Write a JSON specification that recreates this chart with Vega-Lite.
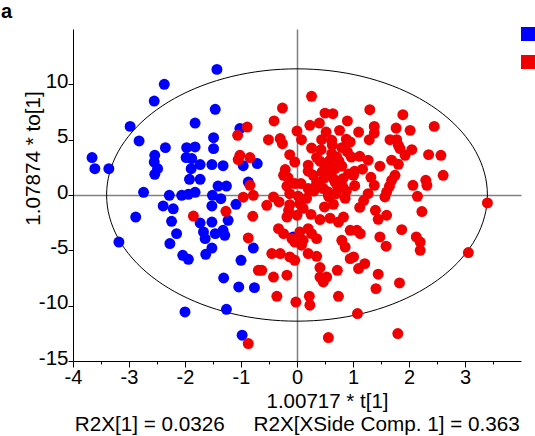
{
  "$schema": "https://vega.github.io/schema/vega-lite/v6.json",
  "autosize": {"type": "none"},
  "width": 448,
  "height": 332,
  "padding": {"left": 73, "top": 29, "right": 14, "bottom": 75},
  "background": "white",
  "config": {"view": {"stroke": null}, "font": "Liberation Sans"},
  "title": {"text": "a", "anchor": "start", "frame": "group", "dx": -72, "offset": 5.5, "fontSize": 20, "fontWeight": "bold", "font": "Liberation Sans", "color": "black"},
  "resolve": {"axis": {"x": "independent"}},
  "layer": [
    {
      "data": {"values": [
        {"i":0,"x":3.4,"y":0},{"i":1,"x":3.348,"y":1.979},{"i":2,"x":3.195,"y":3.899},{"i":3,"x":2.944,"y":5.7},{"i":4,"x":2.604,"y":7.328},{"i":5,"x":2.186,"y":8.732},{"i":6,"x":1.7,"y":9.872},{"i":7,"x":1.163,"y":10.713},{"i":8,"x":0.59,"y":11.227},
        {"i":9,"x":0,"y":11.4},{"i":10,"x":-0.59,"y":11.227},{"i":11,"x":-1.163,"y":10.713},{"i":12,"x":-1.7,"y":9.872},{"i":13,"x":-2.186,"y":8.732},{"i":14,"x":-2.604,"y":7.328},{"i":15,"x":-2.944,"y":5.7},{"i":16,"x":-3.195,"y":3.899},{"i":17,"x":-3.348,"y":1.979},
        {"i":18,"x":-3.4,"y":0},{"i":19,"x":-3.348,"y":-1.979},{"i":20,"x":-3.195,"y":-3.899},{"i":21,"x":-2.944,"y":-5.7},{"i":22,"x":-2.604,"y":-7.328},{"i":23,"x":-2.186,"y":-8.732},{"i":24,"x":-1.7,"y":-9.872},{"i":25,"x":-1.163,"y":-10.713},{"i":26,"x":-0.59,"y":-11.227},
        {"i":27,"x":0,"y":-11.4},{"i":28,"x":0.59,"y":-11.227},{"i":29,"x":1.163,"y":-10.713},{"i":30,"x":1.7,"y":-9.872},{"i":31,"x":2.186,"y":-8.732},{"i":32,"x":2.604,"y":-7.328},{"i":33,"x":2.944,"y":-5.7},{"i":34,"x":3.195,"y":-3.899},{"i":35,"x":3.348,"y":-1.979}
      ]},
      "mark": {"type": "line", "interpolate": "cardinal-closed", "color": "black", "strokeWidth": 1},
      "encoding": {
        "x": {"field": "x", "type": "quantitative", "scale": {"domain": [-4, 4], "nice": false, "zero": false},
          "axis": {"orient": "bottom", "domain": false, "ticks": false, "labels": false, "grid": false,
            "title": "R2X[1] = 0.0326 \u00a0\u00a0\u00a0\u00a0R2X[XSide Comp. 1] = 0.363",
            "titleFont": "Liberation Sans", "titleFontSize": 20.7, "titleFontWeight": "normal", "titleColor": "black",
            "titleAlign": "left", "titleBaseline": "alphabetic", "titleX": 1.2, "titleY": 69.5}},
        "y": {"field": "y", "type": "quantitative"},
        "order": {"field": "i"}
      }
    },
    {
      "mark": {"type": "point", "shape": "triangle-right", "filled": true, "color": "black", "opacity": 1, "size": 70},
      "encoding": {
        "x": {"datum": 3.91, "type": "quantitative", "axis": null},
        "y": {"datum": -15, "type": "quantitative"}
      }
    },
    {
      "mark": {"type": "point", "shape": "triangle-up", "filled": true, "color": "black", "opacity": 1, "size": 70},
      "encoding": {
        "x": {"datum": -4, "type": "quantitative", "axis": null},
        "y": {"datum": 14.64, "type": "quantitative"}
      }
    },
    {
      "data": {"values": [
        {"g":"A","x":-1.43,"y":11.35},{"g":"A","x":-2.37,"y":10.0},{"g":"A","x":-2.55,"y":8.49},{"g":"A","x":-1.46,"y":7.74},{"g":"A","x":-2.98,"y":6.2},{"g":"A","x":-1.82,"y":6.5},{"g":"A","x":-2.82,"y":4.88},{"g":"A","x":-1.02,"y":6.0},{"g":"A","x":-1.49,"y":5.18},{"g":"A","x":-2.35,"y":4.28},
        {"g":"A","x":-1.49,"y":4.19},{"g":"A","x":-1.97,"y":4.28},{"g":"A","x":-1.82,"y":4.34},{"g":"A","x":-3.66,"y":3.38},{"g":"A","x":-3.61,"y":2.38},{"g":"A","x":-3.36,"y":2.38},{"g":"A","x":-2.54,"y":3.59},{"g":"A","x":-2.55,"y":2.98},{"g":"A","x":-2.49,"y":2.38},{"g":"A","x":-2.54,"y":1.87},
        {"g":"A","x":-1.98,"y":3.38},{"g":"A","x":-1.88,"y":3.29},{"g":"A","x":-1.73,"y":2.75},{"g":"A","x":-1.89,"y":2.38},{"g":"A","x":-1.92,"y":1.42},{"g":"A","x":-1.73,"y":1.42},{"g":"A","x":-1.52,"y":2.75},{"g":"A","x":-1.32,"y":2.65},{"g":"A","x":-0.96,"y":2.65},{"g":"A","x":-0.71,"y":2.84},
        {"g":"A","x":-0.87,"y":1.17},{"g":"A","x":-1.41,"y":0.81},{"g":"A","x":-1.26,"y":0.81},{"g":"A","x":-2.74,"y":0.24},{"g":"A","x":-2.28,"y":-0.03},{"g":"A","x":-2.06,"y":-0.03},{"g":"A","x":-1.94,"y":0.06},{"g":"A","x":-1.82,"y":0.24},{"g":"A","x":-1.51,"y":-0.03},{"g":"A","x":-1.36,"y":-0.33},
        {"g":"A","x":-2.39,"y":-0.99},{"g":"A","x":-2.21,"y":-1.25},{"g":"A","x":-1.52,"y":-0.99},{"g":"A","x":-1.09,"y":-0.84},{"g":"A","x":-2.88,"y":-1.99},{"g":"A","x":-2.24,"y":-2.38},{"g":"A","x":-1.73,"y":-2.53},{"g":"A","x":-1.52,"y":-2.44},{"g":"A","x":-1.23,"y":-2.29},{"g":"A","x":-1.32,"y":-3.19},
        {"g":"A","x":-1.67,"y":-3.34},{"g":"A","x":-2.15,"y":-3.49},{"g":"A","x":-1.64,"y":-3.94},{"g":"A","x":-1.46,"y":-3.49},{"g":"A","x":-1.29,"y":-3.64},{"g":"A","x":-3.18,"y":-4.25},{"g":"A","x":-2.27,"y":-4.39},{"g":"A","x":-0.78,"y":-4.79},{"g":"A","x":-1.52,"y":-4.79},{"g":"A","x":-1.63,"y":-5.36},
        {"g":"A","x":-2.04,"y":-5.45},{"g":"A","x":-1.94,"y":-5.81},{"g":"A","x":-1.0,"y":-5.9},{"g":"A","x":-1.31,"y":-7.5},{"g":"A","x":-1.04,"y":-8.31},{"g":"A","x":-0.76,"y":-8.37},{"g":"A","x":-2.0,"y":-10.57},{"g":"A","x":-1.26,"y":-10.33},{"g":"A","x":-0.98,"y":-12.67},{"g":"A","x":-0.07,"y":-3.79},
        {"g":"B","x":0.26,"y":8.92},{"g":"B","x":-0.26,"y":7.86},{"g":"B","x":-0.41,"y":6.69},{"g":"B","x":-0.89,"y":6.14},{"g":"B","x":-1.06,"y":5.39},{"g":"B","x":0.5,"y":7.4},{"g":"B","x":0.64,"y":7.35},{"g":"B","x":0.9,"y":6.69},{"g":"B","x":1.3,"y":7.71},{"g":"B","x":0.0,"y":5.78},
        {"g":"B","x":0.23,"y":6.3},{"g":"B","x":0.4,"y":6.5},{"g":"B","x":0.08,"y":5.0},{"g":"B","x":-0.51,"y":5.0},{"g":"B","x":-0.3,"y":5.1},{"g":"B","x":-0.26,"y":4.64},{"g":"B","x":0.52,"y":5.69},{"g":"B","x":0.76,"y":5.84},{"g":"B","x":1.1,"y":5.69},{"g":"B","x":0.44,"y":5.0},
        {"g":"B","x":0.62,"y":4.94},{"g":"B","x":0.88,"y":5.05},{"g":"B","x":1.29,"y":5.0},{"g":"B","x":0.26,"y":4.24},{"g":"B","x":0.43,"y":4.1},{"g":"B","x":0.63,"y":4.5},{"g":"B","x":0.8,"y":4.28},{"g":"B","x":0.9,"y":3.9},{"g":"B","x":-0.13,"y":3.65},{"g":"B","x":-0.04,"y":2.98},
        {"g":"B","x":-1.02,"y":3.59},{"g":"B","x":-1.05,"y":3.2},{"g":"B","x":-0.84,"y":3.38},{"g":"B","x":0.41,"y":3.05},{"g":"B","x":0.58,"y":3.1},{"g":"B","x":0.71,"y":3.43},{"g":"B","x":1.12,"y":3.5},{"g":"B","x":1.27,"y":3.15},{"g":"B","x":-0.21,"y":2.3},{"g":"B","x":-0.24,"y":1.78},
        {"g":"B","x":-0.16,"y":1.57},{"g":"B","x":0.2,"y":2.15},{"g":"B","x":0.29,"y":1.78},{"g":"B","x":0.5,"y":2.53},{"g":"B","x":0.68,"y":2.38},{"g":"B","x":0.8,"y":2.6},{"g":"B","x":1.03,"y":2.15},{"g":"B","x":1.17,"y":2.33},{"g":"B","x":0.49,"y":1.55},{"g":"B","x":0.65,"y":1.48},
        {"g":"B","x":0.82,"y":1.48},{"g":"B","x":-0.18,"y":0.8},{"g":"B","x":-0.04,"y":1.03},{"g":"B","x":0.07,"y":1.03},{"g":"B","x":0.2,"y":0.58},{"g":"B","x":0.31,"y":0.65},{"g":"B","x":0.47,"y":0.58},{"g":"B","x":0.72,"y":0.8},{"g":"B","x":1.03,"y":0.84},{"g":"B","x":-0.84,"y":0.88},
        {"g":"B","x":-0.78,"y":-0.03},{"g":"B","x":-0.96,"y":-0.2},{"g":"B","x":-0.42,"y":-0.18},{"g":"B","x":-0.32,"y":-0.63},{"g":"B","x":-0.54,"y":-0.93},{"g":"B","x":-0.13,"y":-0.88},{"g":"B","x":0.02,"y":-0.1},{"g":"B","x":0.17,"y":-0.3},{"g":"B","x":0.57,"y":-0.18},{"g":"B","x":0.65,"y":-0.84},
        {"g":"B","x":0.86,"y":-0.3},{"g":"B","x":1.12,"y":-1.12},{"g":"B","x":1.19,"y":-0.5},{"g":"B","x":0.05,"y":-0.78},{"g":"B","x":-0.13,"y":0.12},{"g":"B","x":0.3,"y":0.35},{"g":"B","x":0.42,"y":0.8},{"g":"B","x":0.56,"y":-0.03},{"g":"B","x":0.7,"y":0.12},{"g":"B","x":0.82,"y":0.72},
        {"g":"B","x":1.27,"y":0.12},{"g":"B","x":0.11,"y":-1.2},{"g":"B","x":0.25,"y":-1.75},{"g":"B","x":-0.18,"y":-1.99},{"g":"B","x":0.0,"y":-1.83},{"g":"B","x":0.49,"y":-1.08},{"g":"B","x":0.41,"y":-2.22},{"g":"B","x":0.59,"y":-2.1},{"g":"B","x":0.74,"y":-2.44},{"g":"B","x":0.83,"y":-1.99},
        {"g":"B","x":-0.33,"y":-3.04},{"g":"B","x":-0.24,"y":-3.49},{"g":"B","x":-0.09,"y":-3.94},{"g":"B","x":0.05,"y":-3.34},{"g":"B","x":0.2,"y":-3.04},{"g":"B","x":0.26,"y":-3.49},{"g":"B","x":0.35,"y":-3.94},{"g":"B","x":0.11,"y":-4.09},{"g":"B","x":-0.04,"y":-4.25},{"g":"B","x":0.08,"y":-4.54},
        {"g":"B","x":0.8,"y":-4.09},{"g":"B","x":0.86,"y":-4.7},{"g":"B","x":0.95,"y":-3.19},{"g":"B","x":1.07,"y":-3.19},{"g":"B","x":1.01,"y":-5.6},{"g":"B","x":0.95,"y":-5.75},{"g":"B","x":1.13,"y":-3.49},{"g":"B","x":-0.45,"y":-5.29},{"g":"B","x":-0.3,"y":-5.29},{"g":"B","x":-0.13,"y":-5.6},
        {"g":"B","x":-0.04,"y":-5.9},{"g":"B","x":0.2,"y":-5.29},{"g":"B","x":0.35,"y":-5.54},{"g":"B","x":-0.63,"y":-6.8},{"g":"B","x":-0.42,"y":-7.41},{"g":"B","x":-0.18,"y":-7.25},{"g":"B","x":0.41,"y":-6.56},{"g":"B","x":0.41,"y":-7.41},{"g":"B","x":0.53,"y":-7.41},{"g":"B","x":0.47,"y":-7.86},
        {"g":"B","x":0.72,"y":-6.8},{"g":"B","x":1.1,"y":-6.65},{"g":"B","x":1.21,"y":-6.2},{"g":"B","x":-0.36,"y":-9.15},{"g":"B","x":-0.02,"y":-9.67},{"g":"B","x":0.22,"y":-9.15},{"g":"B","x":0.23,"y":-9.96},{"g":"B","x":0.74,"y":-9.15},{"g":"B","x":1.08,"y":-10.71},{"g":"B","x":0.56,"y":-12.88},
        {"g":"B","x":-0.87,"y":-13.42},{"g":"B","x":-1.85,"y":-1.9},{"g":"B","x":-1.27,"y":-1.47},{"g":"B","x":-0.87,"y":-3.88},{"g":"B","x":-0.79,"y":-1.92},{"g":"B","x":-0.69,"y":-6.8},{"g":"B","x":1.89,"y":7.26},{"g":"B","x":1.38,"y":6.2},{"g":"B","x":1.38,"y":5.6},{"g":"B","x":1.77,"y":6.05},
        {"g":"B","x":2.02,"y":5.84},{"g":"B","x":2.45,"y":6.2},{"g":"B","x":1.66,"y":5.0},{"g":"B","x":1.78,"y":5.0},{"g":"B","x":1.81,"y":4.49},{"g":"B","x":1.84,"y":4.19},{"g":"B","x":2.05,"y":4.1},{"g":"B","x":1.93,"y":3.59},{"g":"B","x":2.35,"y":3.65},{"g":"B","x":2.57,"y":3.59},
        {"g":"B","x":0.95,"y":4.79},{"g":"B","x":0.97,"y":3.43},{"g":"B","x":1.48,"y":2.6},{"g":"B","x":1.69,"y":3.15},{"g":"B","x":1.81,"y":2.77},{"g":"B","x":1.75,"y":1.78},{"g":"B","x":1.01,"y":1.78},{"g":"B","x":1.32,"y":1.6},{"g":"B","x":2.61,"y":1.78},{"g":"B","x":2.3,"y":1.33},
        {"g":"B","x":2.32,"y":0.88},{"g":"B","x":2.07,"y":0.88},{"g":"B","x":1.69,"y":1.33},{"g":"B","x":1.65,"y":0.79},{"g":"B","x":1.6,"y":0.27},{"g":"B","x":1.57,"y":-0.18},{"g":"B","x":1.38,"y":0.88},{"g":"B","x":2.15,"y":-0.12},{"g":"B","x":3.4,"y":-0.72},{"g":"B","x":2.23,"y":-1.5},
        {"g":"B","x":1.6,"y":-1.83},{"g":"B","x":1.45,"y":-2.2},{"g":"B","x":1.87,"y":-3.13},{"g":"B","x":1.48,"y":-3.79},{"g":"B","x":1.59,"y":-4.63},{"g":"B","x":2.13,"y":-3.79},{"g":"B","x":2.2,"y":-4.25},{"g":"B","x":2.2,"y":-5.0},{"g":"B","x":3.06,"y":-5.2},{"g":"B","x":1.45,"y":-7.16},
        {"g":"B","x":1.41,"y":-8.46},{"g":"B","x":1.83,"y":-7.95},{"g":"B","x":1.8,"y":-12.52},{"g":"B","x":0.62,"y":3.74},{"g":"B","x":0.45,"y":2.08},{"g":"B","x":0.68,"y":1.17},{"g":"B","x":1.4,"y":-1.38},{"g":"B","x":-0.15,"y":-1.4},{"g":"B","x":0.35,"y":3.4},{"g":"B","x":0.75,"y":3.05},
        {"g":"B","x":0.2,"y":2.7},{"g":"B","x":0.6,"y":2.25},{"g":"B","x":0.35,"y":1.2},{"g":"B","x":0.92,"y":1.9},{"g":"B","x":0.55,"y":0.3},{"g":"B","x":0.88,"y":0.35}
      ]},
      "mark": {"type": "circle", "size": 120, "opacity": 1},
      "encoding": {
        "x": {"field": "x", "type": "quantitative", "scale": {"domain": [-4, 4], "nice": false, "zero": false},
          "axis": {"orient": "bottom", "title": "1.00717 * t[1]",
            "values": [-4,-3.5,-3,-2.5,-2,-1.5,-1,-0.5,0,0.5,1,1.5,2,2.5,3,3.5],
            "labelExpr": "datum.value % 1 === 0 ? '' + datum.value : ''",
            "labelFont": "Liberation Sans", "labelFontSize": 20, "labelColor": "black", "labelPadding": 0.5, "labelOverlap": false, "labelBound": false, "labelFlush": false,
            "tickColor": "black", "tickWidth": 1, "tickSize": {"condition": {"test": "datum.value % 1 === 0", "value": 6}, "value": 3},
            "domainColor": "black", "domainWidth": 1,
            "grid": true, "gridColor": "#808080", "gridWidth": 1.5, "gridOpacity": {"condition": {"test": "datum.value === 0", "value": 1}, "value": 0},
            "titleFont": "Liberation Sans", "titleFontSize": 20.5, "titleFontWeight": "normal", "titleColor": "black",
            "titleAlign": "center", "titleBaseline": "alphabetic", "titleX": 254, "titleY": 46}},
        "y": {"field": "y", "type": "quantitative", "scale": {"domain": [-15, 15], "nice": false, "zero": false},
          "axis": {"title": "1.07874 * to[1]",
            "values": [-15,-12.5,-10,-7.5,-5,-2.5,0,2.5,5,7.5,10,12.5],
            "labelExpr": "datum.value % 5 === 0 ? '' + datum.value : ''",
            "labelFont": "Liberation Sans", "labelFontSize": 20.5, "labelColor": "black", "labelPadding": 0, "labelOffset": -3, "labelOverlap": false, "labelBound": false, "labelFlush": false,
            "tickColor": "black", "tickWidth": 1, "tickSize": {"condition": {"test": "datum.value % 5 === 0", "value": 5}, "value": 3},
            "domainColor": "black", "domainWidth": 1,
            "grid": true, "gridColor": "#808080", "gridWidth": 1.5, "gridOpacity": {"condition": {"test": "datum.value === 0", "value": 1}, "value": 0},
            "titleFont": "Liberation Sans", "titleFontSize": 20.7, "titleFontWeight": "normal", "titleColor": "black",
            "titleAngle": -90, "titleAlign": "center", "titleBaseline": "alphabetic", "titleX": -33.5, "titleY": 129}},
        "color": {"field": "g", "type": "nominal",
          "scale": {"domain": ["A", "B"], "range": ["#0000FF", "#F00000"]},
          "legend": {"orient": "none", "legendX": 448, "legendY": -2, "title": null, "symbolType": "square", "symbolSize": 196, "symbolStrokeWidth": 0, "symbolOpacity": 1, "labelExpr": "''", "labelFontSize": 14, "rowPadding": 14, "padding": 0}}
      }
    }
  ]
}
